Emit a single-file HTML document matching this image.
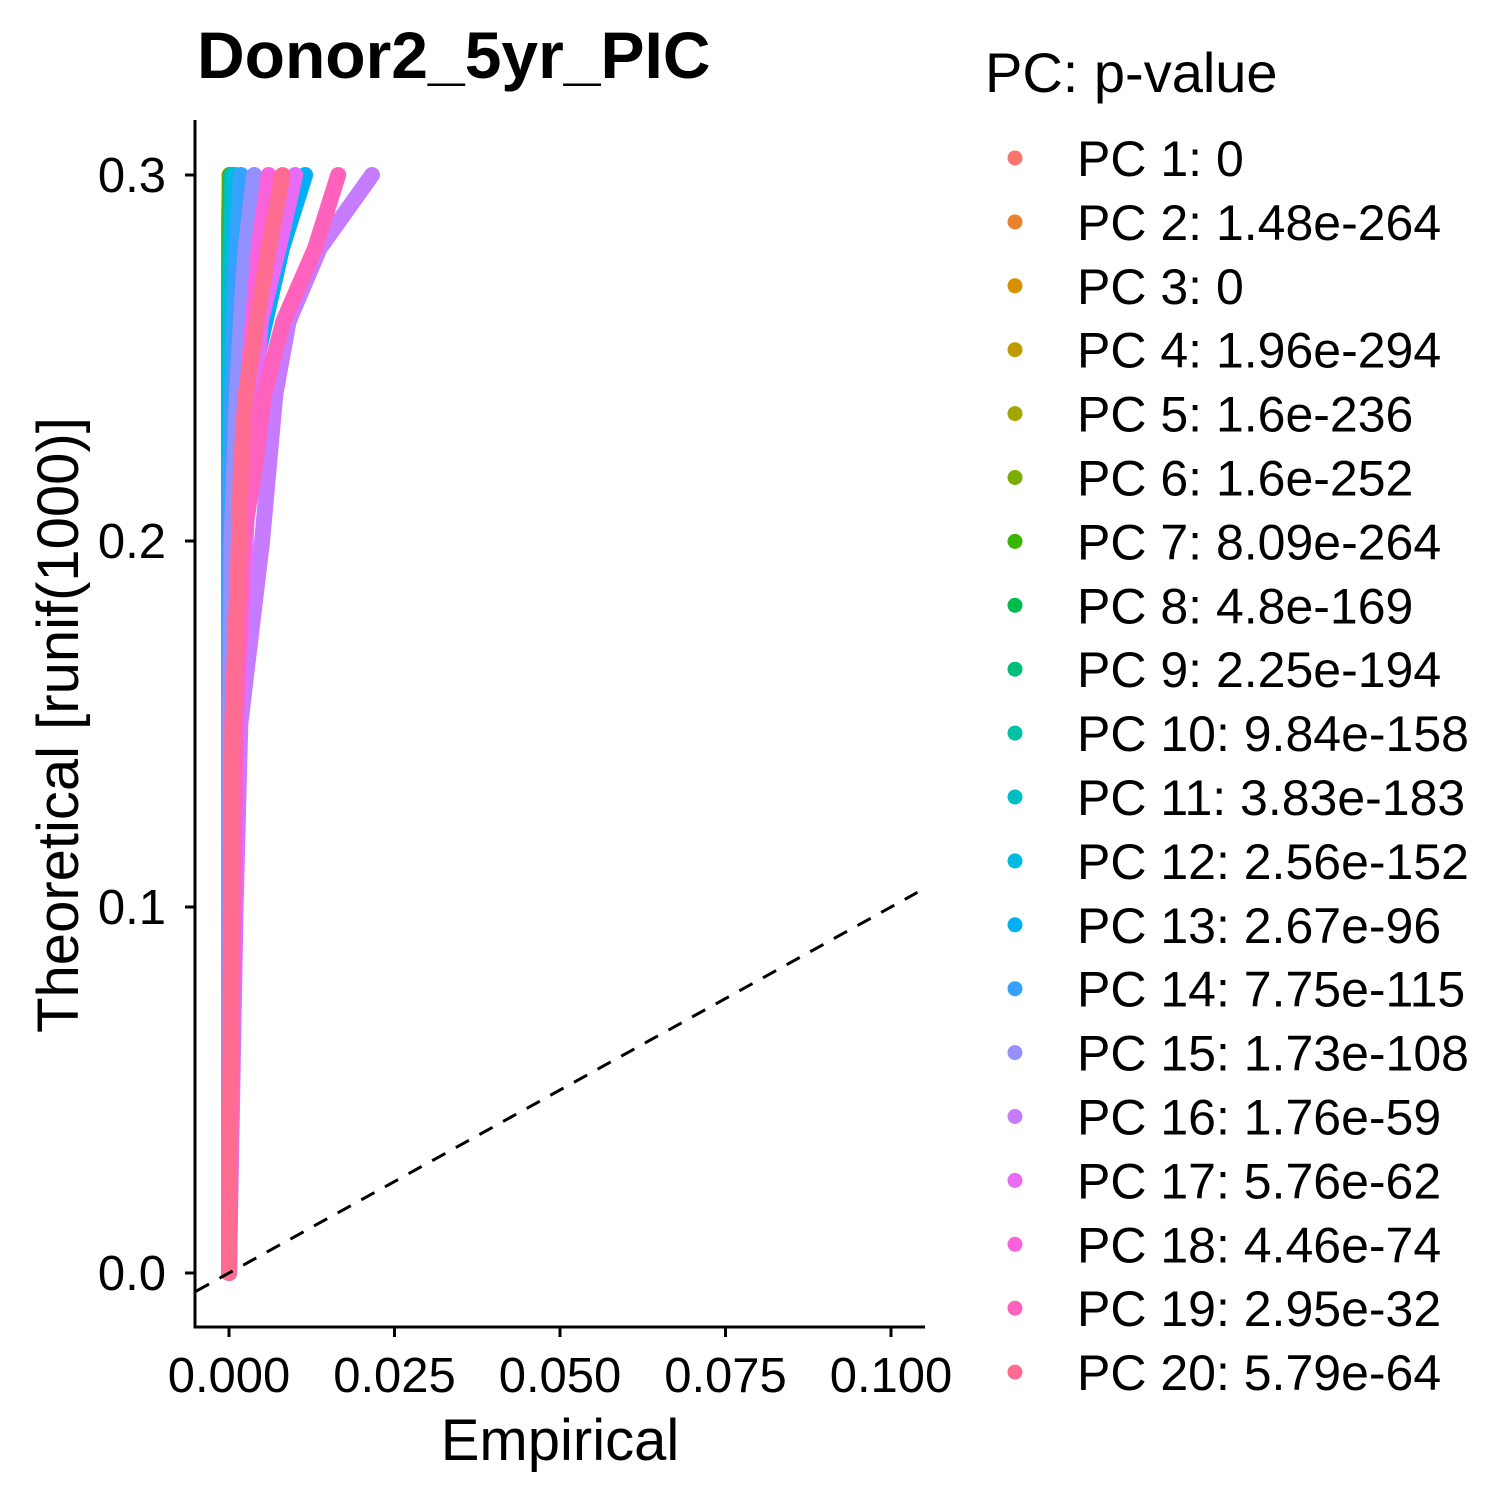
<!DOCTYPE html>
<html><head><meta charset="utf-8"><style>
body{margin:0;background:#fff;}
svg text{font-family:"Liberation Sans",Arial,sans-serif;}
</style></head><body>
<svg id="chart" width="1500" height="1500" viewBox="0 0 1500 1500" xmlns="http://www.w3.org/2000/svg">
<rect width="1500" height="1500" fill="#fff"/>
<text x="197" y="78" font-size="66" font-weight="bold">Donor2_5yr_PIC</text>
<g id="plot"></g>
<text x="560" y="1460" font-size="58" text-anchor="middle">Empirical</text>
<text transform="translate(78,725) rotate(-90)" font-size="58" text-anchor="middle">Theoretical [runif(1000)]</text>
<text x="985" y="92" font-size="56">PC: p-value</text>
<g id="legend"></g>
</svg>
<script>
const theo = [0, 0.05, 0.1, 0.15, 0.2, 0.22, 0.24, 0.26, 0.28, 0.3];
const pcLabels = ["PC 1: 0","PC 2: 1.48e-264","PC 3: 0","PC 4: 1.96e-294","PC 5: 1.6e-236","PC 6: 1.6e-252","PC 7: 8.09e-264","PC 8: 4.8e-169","PC 9: 2.25e-194","PC 10: 9.84e-158","PC 11: 3.83e-183","PC 12: 2.56e-152","PC 13: 2.67e-96","PC 14: 7.75e-115","PC 15: 1.73e-108","PC 16: 1.76e-59","PC 17: 5.76e-62","PC 18: 4.46e-74","PC 19: 2.95e-32","PC 20: 5.79e-64"];
const pcColors = ["#F8766D","#EA8331","#D89000","#C09B00","#A3A500","#7CAE00","#39B600","#00BB4E","#00BF7D","#00C1A3","#00BFC4","#00BAE0","#00B0F6","#35A2FF","#9590FF","#C77CFF","#E76BF3","#FA62DB","#FF62BC","#FF6C91"];
const emp1 = [0,0,0,0,0,0,0,0,0,0.0001];
const emp2 = [0,0,0,0,0,0,0,0,0.0001,0.0002];
const emp3 = [0,0,0,0,0,0,0,0,0,0.0001];
const emp4 = [0,0,0,0,0,0,0,0,0,0.0001];
const emp5 = [0,0,0,0,0,0,0,0.0001,0.0002,0.0003];
const emp6 = [0,0,0,0,0,0,0,0.0001,0.0001,0.0002];
const emp7 = [0,0,0,0,0,0,0,0,0.0001,0.0002];
const emp8 = [0,0,0,0,0,0,0.0001,0.0002,0.0003,0.0005];
const emp9 = [0,0,0,0,0,0,0.0001,0.0001,0.0002,0.0004];
const emp10 = [0,0,0,0,0,0.0001,0.0002,0.0003,0.0004,0.0006];
const emp11 = [0,0,0,0,0,0,0.0001,0.0002,0.0003,0.0005];
const emp12 = [0,0,0,0,0,0.0001,0.0002,0.0004,0.0006,0.001];
const emp13 = [0,0,0.0002,0.0004,0.0008,0.0015,0.003,0.0055,0.008,0.0115];
const emp14 = [0,0,0,0,0,0.0002,0.0005,0.0008,0.0012,0.0018];
const emp15 = [0,0,0,0.0001,0.0004,0.0008,0.0012,0.0018,0.0025,0.0038];
const emp16 = [0,0.0005,0.001,0.0017,0.005,0.006,0.007,0.009,0.0137,0.0216];
const emp17 = [0,0.0003,0.0008,0.0012,0.0025,0.003,0.004,0.0048,0.0075,0.010];
const emp18 = [0,0.0002,0.0004,0.0008,0.0015,0.002,0.0027,0.0036,0.0045,0.006];
const emp19 = [0,0.0003,0.0006,0.001,0.0021,0.0039,0.0053,0.0082,0.013,0.0165];
const emp20 = [0,0.0002,0.0003,0.0005,0.0015,0.0018,0.0025,0.0042,0.006,0.0081];
const empAll = [emp1,emp2,emp3,emp4,emp5,emp6,emp7,emp8,emp9,emp10,emp11,emp12,emp13,emp14,emp15,emp16,emp17,emp18,emp19,emp20];
const xTicks = [0, 0.025, 0.05, 0.075, 0.1];
const xTickLabels = ["0.000","0.025","0.050","0.075","0.100"];
const yTicks = [0, 0.1, 0.2, 0.3];
const yTickLabels = ["0.0","0.1","0.2","0.3"];

const NS = "http://www.w3.org/2000/svg";
const X = v => 229 + v * 6620;
const Y = v => 1273 - v * 3660;
const plot = document.getElementById('plot');
function mk(tag, attrs, parent){const e=document.createElementNS(NS,tag);for(const k in attrs)e.setAttribute(k,attrs[k]);parent.appendChild(e);return e;}

empAll.forEach((emp,i)=>{
  const pts = emp.map((e,j)=>X(e).toFixed(1)+','+Y(theo[j]).toFixed(1)).join(' ');
  const pl = mk('polyline',{points:pts,fill:'none',stroke:pcColors[i],'stroke-width':16,'stroke-linecap':'round','stroke-linejoin':'round'},plot);
  
  
});
const ref = mk('line',{x1:X(-0.005),y1:Y(-0.005),x2:X(0.104),y2:Y(0.104),stroke:'#000','stroke-width':3,'stroke-dasharray':'15,12'},plot);


const ax = mk('line',{x1:195,y1:120,x2:195,y2:1328.5,stroke:'#000','stroke-width':3},plot);


const bx = mk('line',{x1:193.5,y1:1327,x2:925,y2:1327,stroke:'#000','stroke-width':3},plot);


xTicks.forEach((t,i)=>{
  const tk = mk('line',{x1:X(t),y1:1327,x2:X(t),y2:1337,stroke:'#000','stroke-width':3},plot);
  
  
  const tl = mk('text',{x:X(t),y:1392,'font-size':49,'text-anchor':'middle',fill:'#000'},plot);
  tl.textContent = xTickLabels[i];
  
  
});
yTicks.forEach((t,i)=>{
  const tk = mk('line',{x1:185,y1:Y(t),x2:195,y2:Y(t),stroke:'#000','stroke-width':3},plot);
  
  
  const tl = mk('text',{x:166,y:Y(t)+17,'font-size':49,'text-anchor':'end',fill:'#000'},plot);
  tl.textContent = yTickLabels[i];
  
  
});
const lg = document.getElementById('legend');
pcLabels.forEach((lab,i)=>{
  const cy = 158 + i*63.9;
  const g = mk('g',{},lg);
  
  
  mk('circle',{cx:1015,cy:cy,r:7.5,fill:pcColors[i]},g);
  const t = mk('text',{x:1077,y:cy+18,'font-size':50,fill:'#000'},g);
  t.textContent = lab;
});
</script>
</body></html>
